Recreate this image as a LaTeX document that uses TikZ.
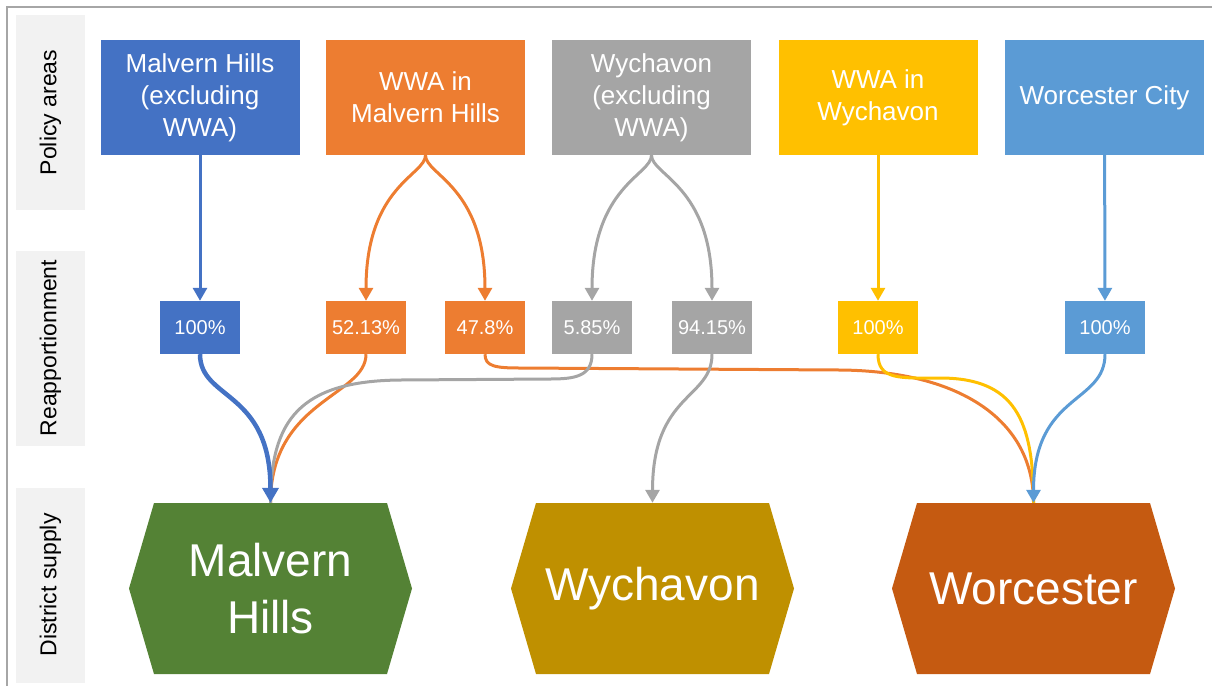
\documentclass[tikz,border=0pt]{standalone}
\usepackage{fontspec}
\setmainfont{Liberation Sans}
\usetikzlibrary{arrows.meta}
\definecolor{cblue}{HTML}{4472C4}
\definecolor{corange}{HTML}{ED7D31}
\definecolor{cgray}{HTML}{A5A5A5}
\definecolor{cgold}{HTML}{FFC000}
\definecolor{clight}{HTML}{5B9BD5}
\definecolor{cgreen}{HTML}{548235}
\definecolor{cdgold}{HTML}{BF9000}
\definecolor{cdorange}{HTML}{C55A11}
\definecolor{bandgray}{HTML}{F2F2F2}
\definecolor{framegray}{HTML}{A6A6A6}
\begin{document}
\begin{tikzpicture}[x=1pt, y=1pt,
  area/.style={fill=#1, text=white, minimum width=199pt, minimum height=115pt,
    inner sep=0pt, align=center, font=\fontsize{26}{32}\selectfont},
  share/.style={fill=#1, text=white, minimum width=80pt, minimum height=53pt,
    inner sep=0pt, font=\fontsize{20}{24}\selectfont},
  district/.style={minimum width=283pt, minimum height=171pt, inner sep=0pt,
    text=white, align=center, font=\fontsize{46}{57}\selectfont,
    path picture={\fill[#1] (path picture bounding box.west)
      -- ([xshift=25pt]path picture bounding box.north west)
      -- ([xshift=-25pt]path picture bounding box.north east)
      -- (path picture bounding box.east)
      -- ([xshift=-25pt]path picture bounding box.south east)
      -- ([xshift=25pt]path picture bounding box.south west) -- cycle;}},
  band/.style={fill=bandgray, rotate=90, minimum width=195pt, minimum height=69pt,
    inner sep=0pt, font=\fontsize{23}{28}\selectfont},
  flow/.style={draw=#1, line width=3pt, -{Triangle[width=14pt,length=13pt]}},
  feed/.style={draw=#1, line width=3pt}
]
\useasboundingbox (0,0) rectangle (1212,-686);
\draw[framegray, line width=2pt] (7,-686) -- (7,-7) -- (1212,-7);

% row labels
\node[band] (lpol) at (50.5,-112.5) {Policy areas};
\node[band] (lrea) at (50.5,-348) {Reapportionment};
\node[band] (ldis) at (50.5,-585) {District supply};

% policy areas
\node[area=cblue] (mhx) at (200,-97.5) {Malvern Hills\\(excluding\\WWA)};
\node[area=corange] (wwamh) at (425.5,-97.5) {WWA in\\Malvern Hills};
\node[area=cgray] (wyx) at (651.5,-97.5) {Wychavon\\(excluding\\WWA)};
\node[area=cgold] (wwawy) at (878,-97.5) {WWA in\\Wychavon};
\node[area=clight] (wc) at (1104.5,-97.5) {Worcester City};

% shares
\node[share=cblue] (r1) at (200,-327.5) {100\%};
\node[share=corange] (r2) at (366,-327.5) {52.13\%};
\node[share=corange] (r3) at (485,-327.5) {47.8\%};
\node[share=cgray] (r4) at (592,-327.5) {5.85\%};
\node[share=cgray] (r5) at (712,-327.5) {94.15\%};
\node[share=cgold] (r6) at (878,-327.5) {100\%};
\node[share=clight] (r7) at (1105,-327.5) {100\%};

% districts
\node[district=cgreen] (mh) at (270.5,-588.5) {Malvern\\Hills};
\node[district=cdgold] (wy) at (652.5,-588.5) {Wychavon};
\node[district=cdorange] (wo) at (1033.5,-588.5) {Worcester};

% policy areas to shares
\draw[flow=cblue] (mhx) -- (r1);
\draw[flow=corange] (wwamh.south) .. controls +(0,-20) and +(0,115) .. (r2.north);
\draw[flow=corange] (wwamh.south) .. controls +(0,-20) and +(0,115) .. (r3.north);
\draw[flow=cgray] (wyx.south) .. controls +(0,-20) and +(0,115) .. (r4.north);
\draw[flow=cgray] (wyx.south) .. controls +(0,-20) and +(0,115) .. (r5.north);
\draw[flow=cgold] (wwawy) -- (r6);
\draw[flow=clight] (wc) -- (r7);

% shares to districts
\draw[feed=corange] (r3.south) .. controls +(0,-12) and (495,-368) .. (520,-368)
  -- (840,-370) .. controls (960,-371) and (1033.5,-420) .. (wo.north);
\draw[feed=cgold] (r6.south) .. controls +(0,-26) and (900,-378) .. (940,-378)
  .. controls (1015,-378) and (1033.5,-420) .. (wo.north);
\draw[flow=clight] (r7.south) .. controls +(0,-50) and +(0,110) .. (wo.north);
\draw[flow=cgray] (r5.south) .. controls +(0,-45) and +(0,110) .. (wy.north);
\draw[feed=corange] (r2.south) .. controls +(0,-42) and +(0,103) .. (mh.north);
\draw[feed=cgray] (r4.south) .. controls +(0,-22) and (575,-379) .. (550,-379)
  -- (400,-380) .. controls (300,-381) and (270.5,-420) .. (mh.north);
\draw[flow=cblue, line width=4.5pt, -{Triangle[width=16pt,length=15pt]}]
  (r1.south) .. controls +(0,-46) and +(0,113) .. (mh.north);
\end{tikzpicture}
\end{document}
